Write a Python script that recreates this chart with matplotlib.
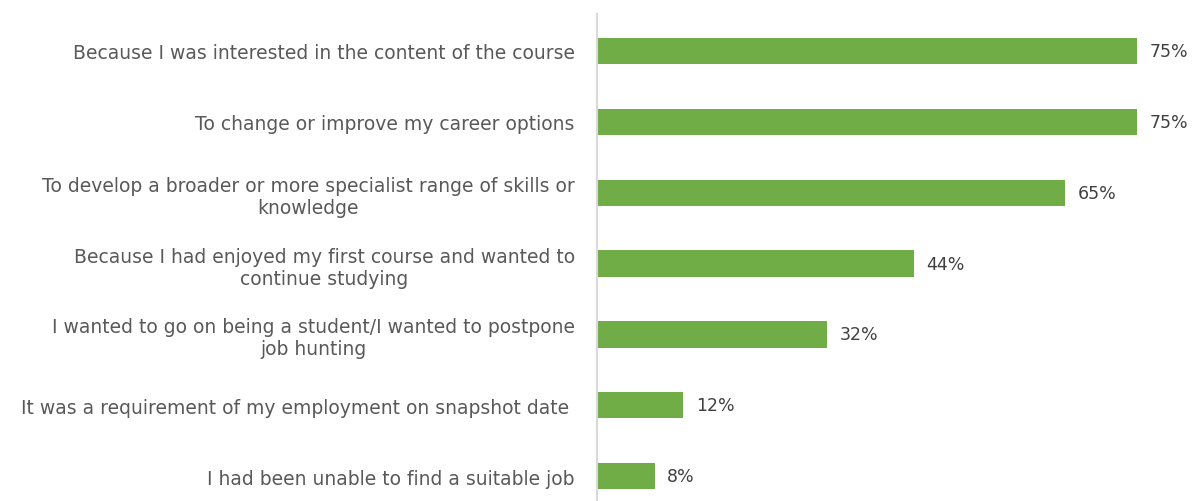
import matplotlib
matplotlib.use("Agg")
import matplotlib.pyplot as plt
import numpy as np

# ── Data ───────────────────────────────────────────────────────────────────
reasons = [
    "Because I was interested in the content of the course",
    "To change or improve my career options",
    "To develop a broader or more specialist range of skills or\nknowledge",
    "Because I had enjoyed my first course and wanted to\ncontinue studying",
    "I wanted to go on being a student/I wanted to postpone\njob hunting",
    "It was a requirement of my employment on snapshot date ",
    "I had been unable to find a suitable job",
]
shares = [75, 75, 65, 44, 32, 12, 8]

GREEN = "#70AD47"
LABEL = "#595959"
VALUE = "#404040"
AXIS = "#D9D9D9"

plt.rcParams["font.family"] = ["DejaVu Sans"]

fig = plt.figure(figsize=(11.94, 5.02), dpi=100, facecolor="white")
ax = fig.add_axes([597 / 1194, 0, 1 - 597 / 1194, 1 - 15 / 502])

y = np.arange(len(reasons))
bars = ax.barh(y, shares, height=0.37, color=GREEN, zorder=2)

for bar, v in zip(bars, shares):
    ax.annotate(f"{v}%", (bar.get_width(), bar.get_y() + bar.get_height() / 2),
                xytext=(9, 0), textcoords="offset points",
                ha="left", va="center", fontsize=12.5, color=VALUE)

ax.set_yticks(y)
ax.set_yticklabels(reasons, fontsize=13.5, color=LABEL, multialignment="center",
                   linespacing=1.2)
ax.tick_params(axis="y", length=0, pad=16)
ax.set_xticks([])

ax.set_xlim(0, (1194 - 597) / 7.2)
ax.set_ylim(6.35, -0.52)

for s in ["top", "right", "bottom"]:
    ax.spines[s].set_visible(False)
ax.spines["left"].set_color(AXIS)
ax.spines["left"].set_linewidth(1.5)

fig.savefig("out.png", dpi=100, facecolor="white")
